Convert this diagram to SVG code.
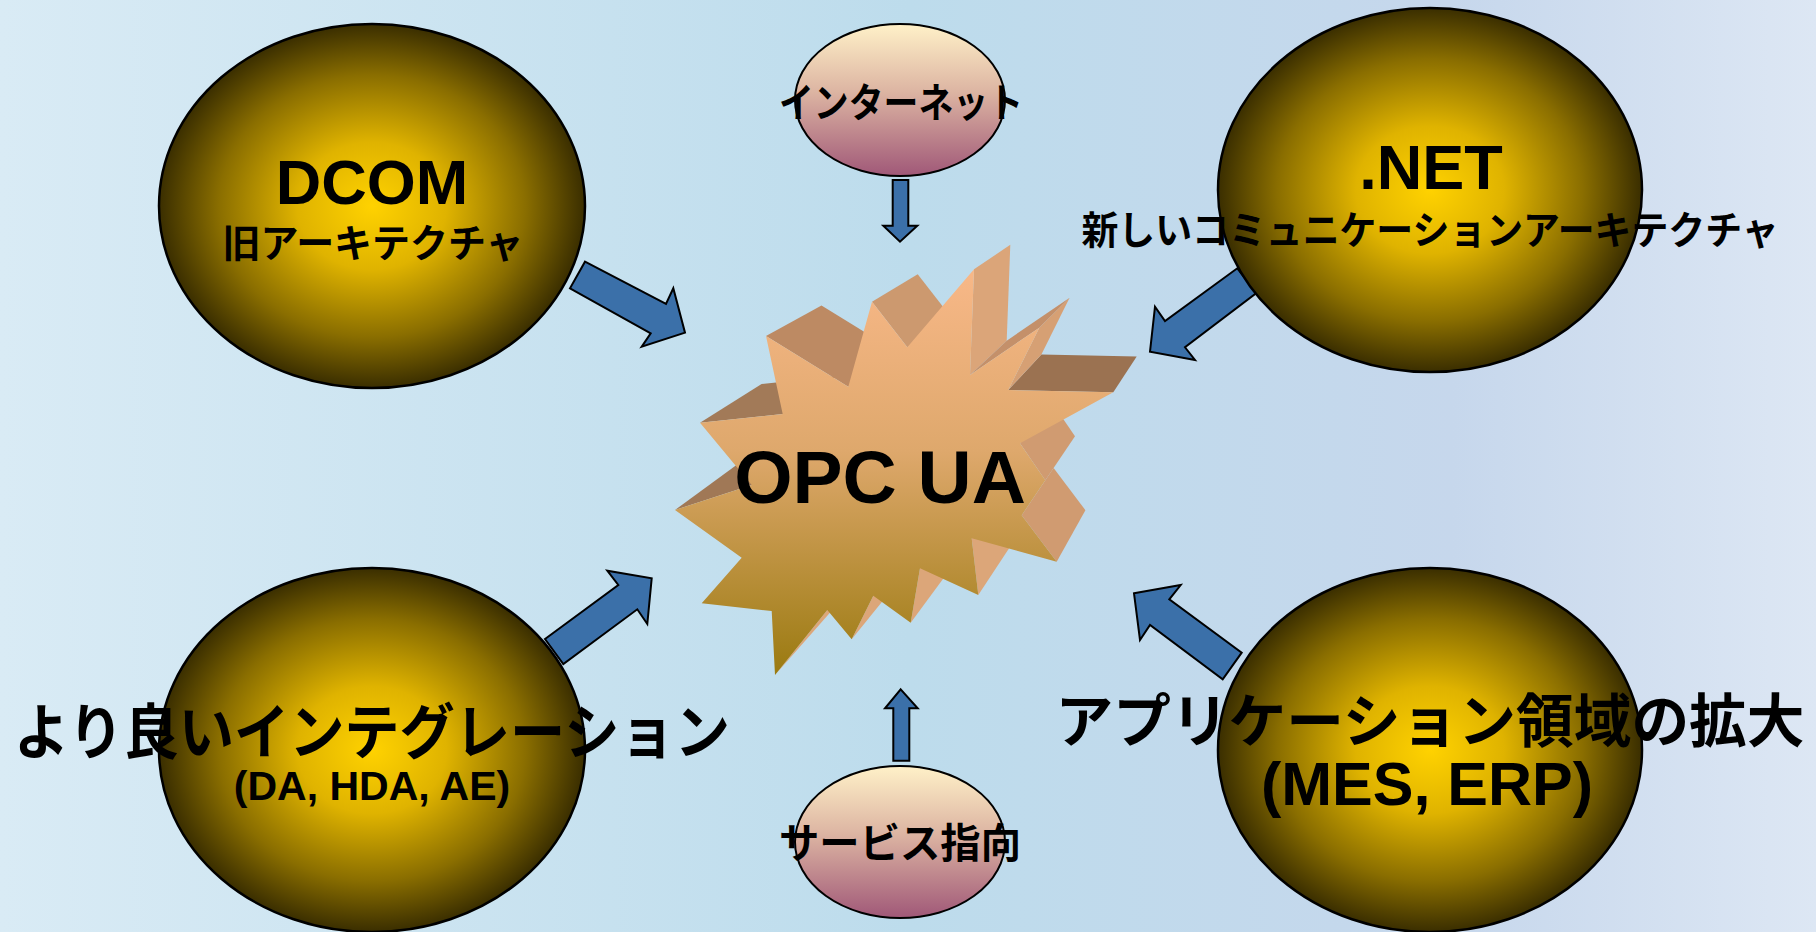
<svg xmlns="http://www.w3.org/2000/svg" width="1816" height="932" viewBox="0 0 1816 932">
<defs>
<linearGradient id="bg" x1="0" y1="0" x2="1" y2="0">
<stop offset="0" stop-color="#d9ebf5"/>
<stop offset="0.5" stop-color="#bddcec"/>
<stop offset="0.8" stop-color="#c6d7ec"/>
<stop offset="1" stop-color="#dde7f4"/>
</linearGradient>
<radialGradient id="gold" cx="0.5" cy="0.5" r="0.5">
<stop offset="0" stop-color="#ffd200"/>
<stop offset="0.35" stop-color="#dfb300"/>
<stop offset="0.72" stop-color="#8a6e00"/>
<stop offset="1" stop-color="#3a2e00"/>
</radialGradient>
<linearGradient id="pink" x1="0" y1="0" x2="0" y2="1">
<stop offset="0" stop-color="#fff1c8"/>
<stop offset="0.45" stop-color="#dcb4a2"/>
<stop offset="1" stop-color="#a05878"/>
</linearGradient>
<linearGradient id="star" gradientUnits="userSpaceOnUse" x1="0" y1="269" x2="0" y2="675">
<stop offset="0" stop-color="#f8b888"/>
<stop offset="0.45" stop-color="#dea86c"/>
<stop offset="1" stop-color="#9a7a10"/>
</linearGradient>
<style>
.big{fill:url(#gold);stroke:#000;stroke-width:2.5}
.small{fill:url(#pink);stroke:#000;stroke-width:2}
.arrow{fill:#3b70a9;stroke:#000;stroke-width:2;stroke-linejoin:miter}
.lat{font-family:"Liberation Sans",Arial,sans-serif;font-weight:bold;fill:#000;text-anchor:middle}
.jp{font-family:"Noto Sans CJK JP","Noto Sans CJK SC",sans-serif;font-weight:bold;fill:#000;text-anchor:middle}
</style>
</defs>
<rect x="0" y="0" width="1816" height="932" fill="url(#bg)"/>
<g id="connectors">
<polygon class="arrow" points="585,261.7 666,304 673.3,288.3 685,332.7 641.7,346.7 650.7,333.3 570,288.3"/>
<polygon class="arrow" points="892.7,180 908.3,180 908.3,225.7 917.3,225.7 900,241.7 883.3,225.7 892.7,225.7"/>
<polygon class="arrow" points="1237.3,268.3 1256.7,292.7 1185,347.3 1195,360 1150,351.7 1155,306.7 1165,321"/>
<polygon class="arrow" points="1134,593.3 1180.7,585 1169.3,599.3 1241.7,652.7 1222.7,679.3 1150,625 1140,640"/>
<polygon class="arrow" points="545,639 618.3,585 607.3,570.7 651.7,578.3 647.3,624 637.3,609.3 563.3,664"/>
<polygon class="arrow" points="900.7,689.3 917.7,708.3 909.3,708.3 909.3,760.7 893.3,760.7 893.3,708.3 885,708.3"/>
</g>
<g id="node-opcua">
<polygon fill="#a07856" points="675,510 751.7,485 808.6,440.6 738.9,463.3"/>
<polygon fill="#a27a58" points="700,422.7 782.7,414 836.7,376.1 761.6,384"/>
<polygon fill="#bd8a63" points="766,336 848.3,386.7 896.2,351.4 821.5,305.4"/>
<polygon fill="#cc996f" points="872,301.7 907.3,347.3 949.8,315.6 917.7,274.2"/>
<polygon fill="#9b7251" points="1008.3,390 1113.3,392.3 1136.7,356.4 1041.4,354.4"/>
<polygon fill="#dba579" points="974,269.3 970,375 1006.7,340.7 1010.3,244.8"/>
<polygon fill="#c4906a" points="970,375 1039.3,327.7 1069.6,297.8 1006.7,340.7"/>
<polygon fill="#d6a074" points="1039.3,327.7 1008.3,390 1041.4,354.4 1069.6,297.8"/>
<polygon fill="#d09b71" points="1020,443.3 1045.3,480.3 1075,436.3 1052.1,402.7"/>
<polygon fill="#d09b71" points="1045.3,480.3 1021.7,515.3 1053.6,468.1 1075,436.3"/>
<polygon fill="#d09b71" points="1021.7,515.3 1056.7,561.7 1085.4,510.2 1053.6,468.1"/>
<polygon fill="#dca679" points="971.7,538.3 978.3,595 1014.2,540.4 1008.2,489"/>
<polygon fill="#dca679" points="920,568.3 910.7,622.7 952.9,565.6 961.3,516.2"/>
<polygon fill="#dca679" points="873.3,595.7 851.7,639.3 899.3,580.6 918.9,541.1"/>
<polygon fill="#dca679" points="827.3,610 775,675 829.7,613 877.2,554"/>
<polygon fill="url(#star)" points="700,422.7 782.7,414 766,336 848.3,386.7 872,301.7 907.3,347.3 974,269.3 970,375 1039.3,327.7 1008.3,390 1113.3,392.3 1020,443.3 1045.3,480.3 1021.7,515.3 1056.7,561.7 971.7,538.3 978.3,595 920,568.3 910.7,622.7 873.3,595.7 851.7,639.3 827.3,610 775,675 771.7,611 701.7,603.3 741.7,557.7 675,510 751.7,485"/>
<text class="lat" x="880" y="503" font-size="75">OPC UA</text>
</g>
<g id="node-dcom">
<ellipse class="big" cx="372" cy="206" rx="213" ry="182"/>
<text class="lat" x="372" y="204" font-size="63">DCOM</text>
<text class="jp" x="373" y="257" font-size="39" textLength="301" lengthAdjust="spacingAndGlyphs">旧アーキテクチャ</text>
</g>
<g id="node-net">
<ellipse class="big" cx="1430" cy="190" rx="212" ry="182"/>
<text class="lat" x="1431" y="189" font-size="63">.NET</text>
<text class="jp" x="1430" y="244" font-size="39" textLength="697" lengthAdjust="spacingAndGlyphs">新しいコミュニケーションアーキテクチャ</text>
</g>
<g id="node-integration">
<ellipse class="big" cx="372" cy="750" rx="213" ry="182"/>
<text class="jp" x="372" y="754" font-size="60" textLength="716" lengthAdjust="spacingAndGlyphs">より良いインテグレーション</text>
<text class="lat" x="372" y="800" font-size="41">(DA, HDA, AE)</text>
</g>
<g id="node-application">
<ellipse class="big" cx="1430" cy="750" rx="212" ry="182"/>
<text class="jp" x="1430" y="742" font-size="58" textLength="749" lengthAdjust="spacingAndGlyphs">アプリケーション領域の拡大</text>
<text class="lat" x="1427" y="805" font-size="61">(MES, ERP)</text>
</g>
<g id="node-internet">
<ellipse class="small" cx="900" cy="100" rx="105" ry="76"/>
<text class="jp" x="901" y="117" font-size="40" textLength="244" lengthAdjust="spacingAndGlyphs">インターネット</text>
</g>
<g id="node-service">
<ellipse class="small" cx="900" cy="842" rx="105" ry="76"/>
<text class="jp" x="900" y="858" font-size="41" textLength="242" lengthAdjust="spacingAndGlyphs">サービス指向</text>
</g>
</svg>
